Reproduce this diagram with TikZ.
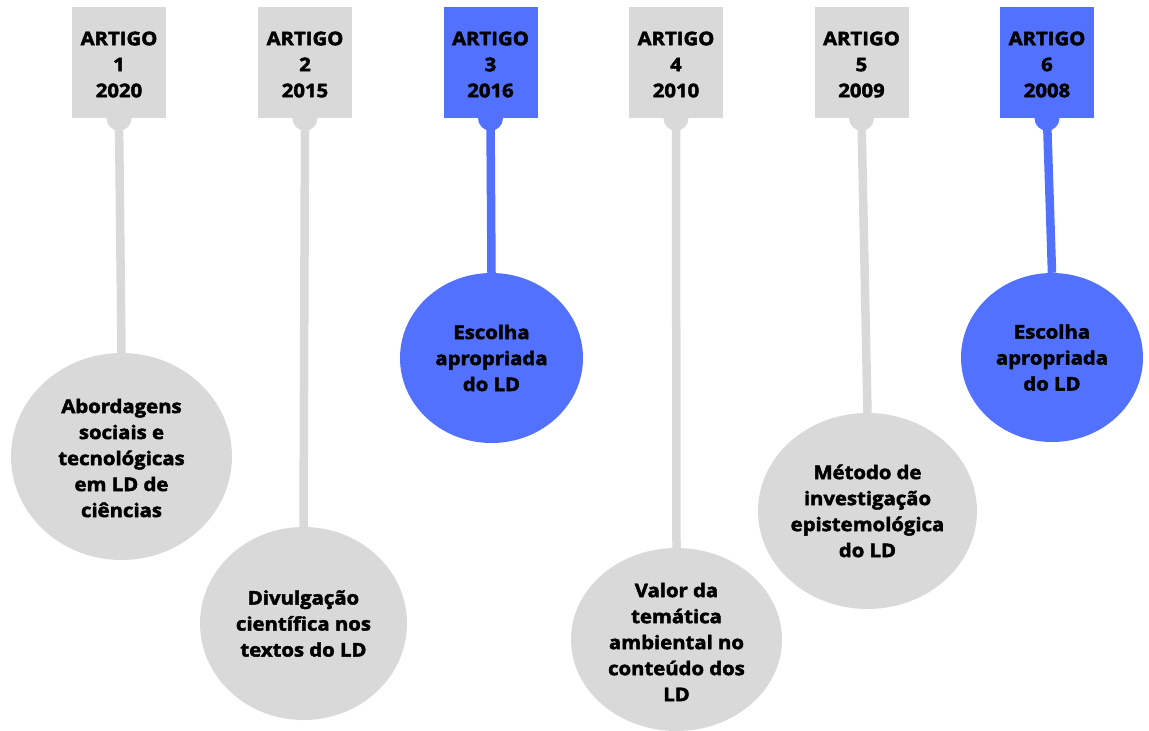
\documentclass[tikz,border=0pt]{standalone}
\usepackage{fontspec}
\setmainfont{Open Sans}[BoldFeatures={FakeBold=2.4,FakeStretch=1.08}]
\usetikzlibrary{shapes.geometric}
\definecolor{lgray}{HTML}{D9D9D9}
\definecolor{cblue}{HTML}{5271FF}
\tikzset{
  tag/.style={fill=#1, draw=none, minimum width=94pt, minimum height=111pt, inner sep=0pt},
  bubble/.style={ellipse, fill=#1, draw=none, inner sep=0pt},
  txt/.style={align=center, inner sep=0pt, font=\fontsize{18.8pt}{26pt}\selectfont\bfseries},
  stem/.style={draw=#1, line width=8.5pt},
  knob/.style={circle, fill=#1, draw=none, minimum size=25pt, inner sep=0pt}
}
\begin{document}
\begin{tikzpicture}[x=1pt,y=-1pt]
\useasboundingbox (0,0) rectangle (1149,731);
% rectangles
\node[tag=lgray] (r1) at (119,62.5) {};
\node[tag=lgray] (r2) at (305,62.5) {};
\node[tag=cblue] (r3) at (490.5,62.5) {};
\node[tag=lgray] (r4) at (676,62.5) {};
\node[tag=lgray] (r5) at (861.5,62.5) {};
\node[tag=cblue] (r6) at (1047,62.5) {};
% knobs
\node[knob=lgray] (k1) at (r1.south) {};
\node[knob=lgray] (k2) at (r2.south) {};
\node[knob=cblue] (k3) at (r3.south) {};
\node[knob=lgray] (k4) at (r4.south) {};
\node[knob=lgray] (k5) at (r5.south) {};
\node[knob=cblue] (k6) at (r6.south) {};
% bubbles
\node[bubble=lgray, minimum width=221pt, minimum height=207pt] (c1) at (121.5,456.5) {};
\node[bubble=lgray, minimum width=207pt, minimum height=193pt] (c2) at (303.5,623.5) {};
\node[bubble=cblue, minimum width=183pt, minimum height=170pt] (c3) at (491.5,358) {};
\node[bubble=lgray, minimum width=211pt, minimum height=183pt] (c4) at (676.5,639.5) {};
\node[bubble=lgray, minimum width=219pt, minimum height=196pt] (c5) at (867.5,511) {};
\node[bubble=cblue, minimum width=182pt, minimum height=169pt] (c6) at (1052,357.5) {};
% stems
\draw[stem=lgray] (k1.center) -- (c1.north);
\draw[stem=lgray] (k2.center) -- (c2.north);
\draw[stem=cblue] (k3.center) -- (c3.north);
\draw[stem=lgray] (k4.center) -- (c4.north);
\draw[stem=lgray] (k5.center) -- (c5.north);
\draw[stem=cblue] (k6.center) -- (c6.north);
% tag texts
\node[txt] (a1) at ([yshift=-2pt]r1.center) {ARTIGO\\1\\2020};
\node[txt] (a2) at ([yshift=-2pt]r2.center) {ARTIGO\\2\\2015};
\node[txt] (a3) at ([yshift=-2pt]r3.center) {ARTIGO\\3\\2016};
\node[txt] (a4) at ([yshift=-2pt]r4.center) {ARTIGO\\4\\2010};
\node[txt] (a5) at ([yshift=-2pt]r5.center) {ARTIGO\\5\\2009};
\node[txt] (a6) at ([yshift=-2pt]r6.center) {ARTIGO\\6\\2008};
% bubble texts
\node[txt] (t1) at ([yshift=-1.5pt]c1.center) {Abordagens\\sociais e\\tecnológicas\\em LD de\\ciências};
\node[txt] (t2) at (c2.center) {Divulgação\\científica nos\\textos do LD};
\node[txt] (t3) at (c3.center) {Escolha\\apropriada\\do LD};
\node[txt] (t4) at ([yshift=-2.5pt]c4.center) {Valor da\\temática\\ambiental no\\conteúdo dos\\LD};
\node[txt] (t5) at (c5.center) {Método de\\investigação\\epistemológica\\do LD};
\node[txt] (t6) at (c6.center) {Escolha\\apropriada\\do LD};
\end{tikzpicture}
\end{document}
